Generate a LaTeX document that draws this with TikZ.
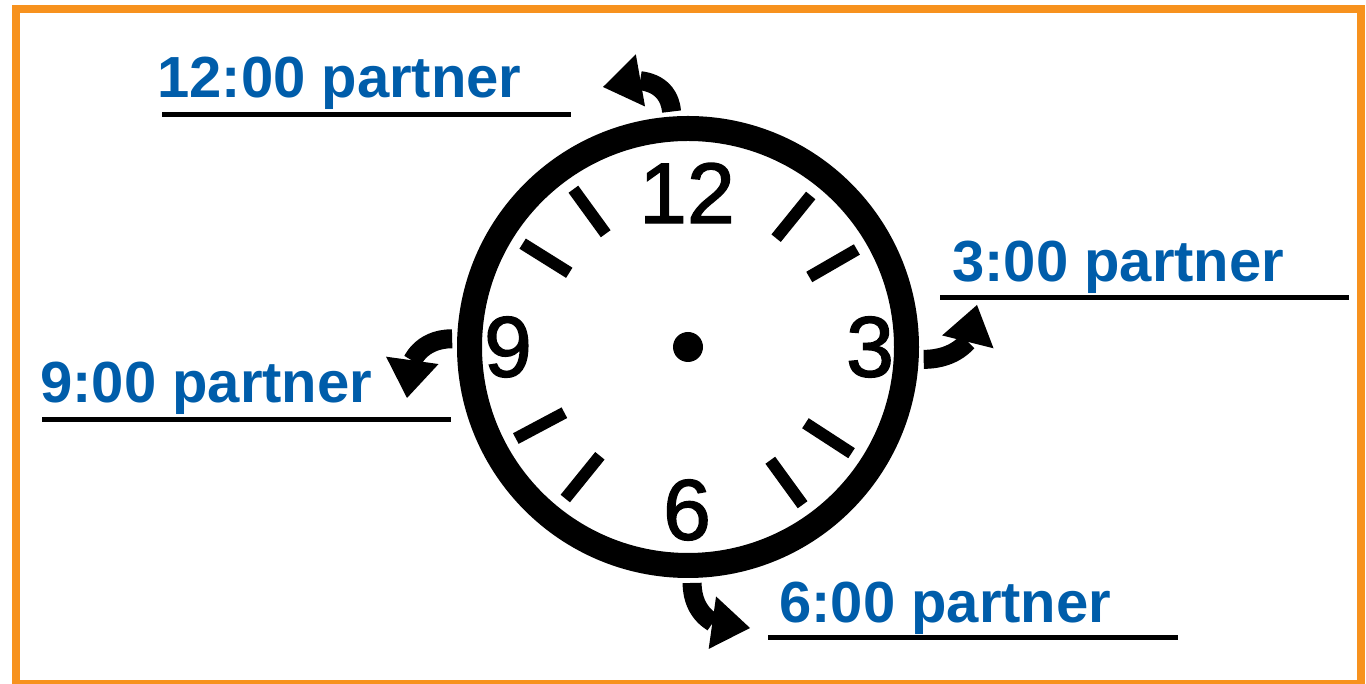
\documentclass[tikz,border=0pt]{standalone}
\usepackage{fontspec}
\setmainfont{Liberation Sans}
\newfontfamily\clockfont[FakeBold=1.6]{Liberation Sans}
\usetikzlibrary{arrows.meta}
\definecolor{partblue}{RGB}{0,93,170}
\definecolor{frameorange}{RGB}{247,146,30}
\tikzset{
  partlab/.style={anchor=base west, inner sep=0pt, text=partblue,
                  font=\fontsize{58}{58}\selectfont\bfseries},
  partline/.style={draw=black, line width=5pt},
  turnarr/.style={-{Triangle[length=38pt,width=53pt,line width=0pt]}, line width=19pt, looseness=1.15},
  clockdigit/.style={inner sep=0pt, font=\clockfont\fontsize{86}{86}\selectfont},
  tickmark/.style={line width=12pt},
}
\begin{document}
\begin{tikzpicture}[x=1pt,y=1pt]
\useasboundingbox (0,0) rectangle (1366,684);
\draw[frameorange, line width=8pt] (16,0) rectangle (1361,675);
% clock face
\node[circle, draw, line width=25pt, minimum size=437pt, outer sep=17.5pt] (clock) at (688,337) {};
\fill (clock.center) circle (15);
\foreach \a in {51,30,-33,-54,-129,-152,148,126}
  \draw[tickmark, shift={(clock.center)}] (\a:140) -- (\a:195);
\node[clockdigit] (d12) at (687,491) {12};
\node[clockdigit] (d3) at (870,337) {3};
\node[clockdigit] (d6) at (687,174) {6};
\node[clockdigit] (d9) at (508,337) {9};
% partner labels
\node[partlab] (p12) at (157,586) {12:00 partner};
\node[partlab] (p3) at (952,402) {3:00 partner};
\node[partlab] (p9) at (40,281) {9:00 partner};
\node[partlab] (p6) at (779,61) {6:00 partner};
\draw[partline] (162,569) -- (571,569);
\draw[partline] (940,386) -- (1349,386);
\draw[partline] (42,264) -- (451,264);
\draw[partline] (768,46) -- (1178,46);
% turn arrows
\coordinate (tip12) at (603,597);
\coordinate (tip3) at (977,379);
\coordinate (tip6) at (750,56);
\coordinate (tip9) at (407,286);
\draw[turnarr] (clock.94) to[out=95,in=10] (tip12);
\draw[turnarr] (clock.-3) to[out=0,in=-104] (tip3);
\draw[turnarr] (clock.-89) to[out=-90,in=172] (tip6);
\draw[turnarr] (clock.178) to[out=180,in=82] (tip9);
\end{tikzpicture}
\end{document}
